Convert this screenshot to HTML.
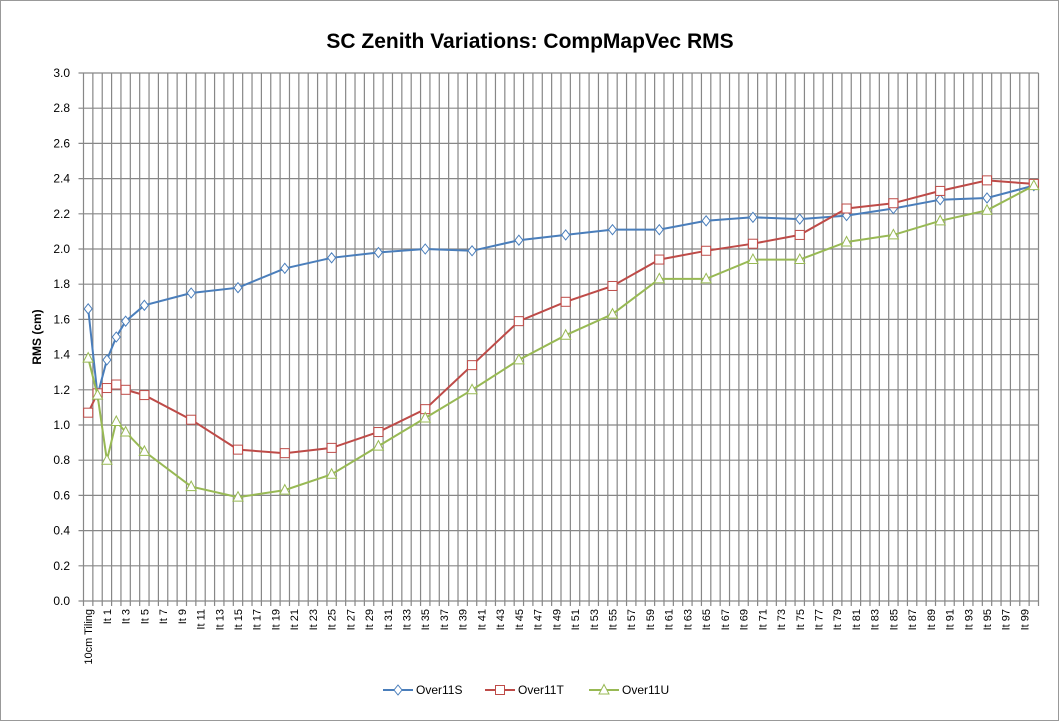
<!DOCTYPE html>
<html><head><meta charset="utf-8"><style>
html,body{margin:0;padding:0;background:#fff}
svg{display:block;font-family:"Liberation Sans",sans-serif}
</style></head><body>
<svg id="c" width="1060" height="722" xmlns="http://www.w3.org/2000/svg"></svg>
<script>
const s=document.getElementById('c');let h='';
h+='<rect x="0.5" y="0.5" width="1058" height="720" fill="#fff" stroke="#999"/>';
const L=83.5,R=1038.5,T=73,B=601,N=102,st=(R-L)/N;
const y=v=>B-v*(B-T)/3;
h+='<rect x="'+L+'" y="'+T+'" width="'+(R-L)+'" height="'+(B-T)+'" fill="#fff"/>';
for(let i=0;i<=N;i++){const x=L+i*st;h+='<line x1="'+x+'" y1="'+T+'" x2="'+x+'" y2="'+(B+5)+'" stroke="#878787" stroke-width="1.2"/>';}
for(let k=0;k<=15;k++){const yy=y(k*0.2);h+='<line x1="'+(L-5)+'" y1="'+yy+'" x2="'+R+'" y2="'+yy+'" stroke="#878787" stroke-width="1.2"/>';
h+='<text x="70" y="'+(yy+4)+'" font-size="12" text-anchor="end">'+(k*0.2).toFixed(1)+'</text>';}
for(let i=0;i<=100;i+=2){const x=L+(i+0.5)*st+4;const lab=i==0?'10cm Tiling':'It '+(i-1);
h+='<text transform="translate('+x+','+(B+8)+') rotate(-90)" font-size="11" text-anchor="end">'+lab+'</text>';}
h+='<text x="530" y="48" font-size="21" font-weight="bold" text-anchor="middle">SC Zenith Variations: CompMapVec RMS</text>';
h+='<text transform="translate(41,337) rotate(-90)" font-size="12" font-weight="bold" text-anchor="middle">RMS (cm)</text>';
const its=[-1,0,1,2,3,5,10,15,20,25,30,35,40,45,50,55,60,65,70,75,80,85,90,95,100];
const S=[1.66,1.17,1.37,1.50,1.59,1.68,1.75,1.78,1.89,1.95,1.98,2.00,1.99,2.05,2.08,2.11,2.11,2.16,2.18,2.17,2.19,2.23,2.28,2.29,2.36];
const Tt=[1.07,1.18,1.21,1.23,1.20,1.17,1.03,0.86,0.84,0.87,0.96,1.09,1.34,1.59,1.70,1.79,1.94,1.99,2.03,2.08,2.23,2.26,2.33,2.39,2.37];
const U=[1.38,1.17,0.80,1.02,0.96,0.85,0.65,0.59,0.63,0.72,0.88,1.04,1.20,1.37,1.51,1.63,1.83,1.83,1.94,1.94,2.04,2.08,2.16,2.22,2.36];
const X=n=>L+(n+1.5)*st;
function mk(t,x,yy,c){if(t=='d')return '<path d="M'+x+','+(yy-5)+'L'+(x+4)+','+yy+'L'+x+','+(yy+5)+'L'+(x-4)+','+yy+'Z" fill="#fff" stroke="'+c+'" stroke-width="1"/>';
if(t=='s')return '<rect x="'+(x-4.5)+'" y="'+(yy-4.5)+'" width="9" height="9" fill="#fff" stroke="'+c+'" stroke-width="1"/>';
return '<path d="M'+x+','+(yy-5.5)+'L'+(x+5)+','+(yy+4)+'L'+(x-5)+','+(yy+4)+'Z" fill="#fff" stroke="'+c+'" stroke-width="1"/>';}
function ser(d,c,t){let p='';d.forEach((v,i)=>{p+=(i?'L':'M')+X(its[i]).toFixed(1)+','+y(v).toFixed(1)});
h+='<path d="'+p+'" fill="none" stroke="'+c+'" stroke-width="2"/>';d.forEach((v,i)=>{h+=mk(t,X(its[i]),y(v),c)});}
ser(S,'#4a7ebb','d');ser(Tt,'#be4b48','s');ser(U,'#98b954','t');
const lg=[['Over11S','#4a7ebb','d',383],['Over11T','#be4b48','s',485],['Over11U','#98b954','t',589]];
lg.forEach(a=>{h+='<line x1="'+a[3]+'" y1="690" x2="'+(a[3]+30)+'" y2="690" stroke="'+a[1]+'" stroke-width="2"/>'+mk(a[2],a[3]+15,690,a[1]);
h+='<text x="'+(a[3]+33)+'" y="694" font-size="12">'+a[0]+'</text>';});
s.innerHTML=h;
</script>
</body></html>
